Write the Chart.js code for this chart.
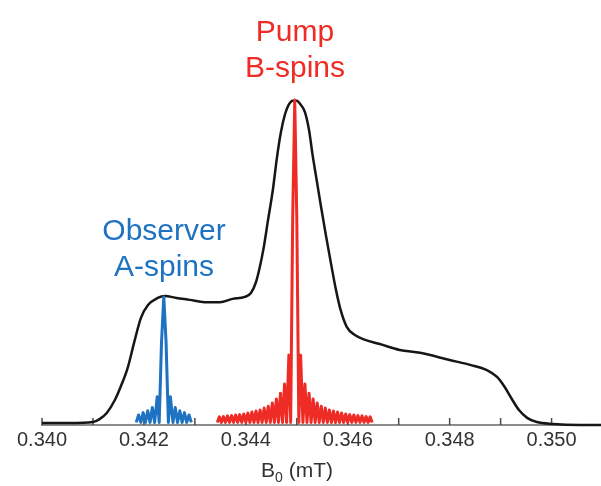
<!DOCTYPE html>
<html>
<head>
<meta charset="utf-8">
<script src="https://cdn.jsdelivr.net/npm/chart.js@4"></script>
<style>
  body { margin: 0; background: #fff; }
  #wrap { position: relative; width: 601px; height: 486px; font-family: "Liberation Sans", Arial, sans-serif; }
  .lbl { position: absolute; transform: translateX(-50%); white-space: nowrap; text-align: center; font-size: 30px; line-height: 36px; }
</style>
</head>
<body>
<div id="wrap">
  <canvas id="epr" width="601" height="486"></canvas>
  <div class="lbl" style="left:295px; top:13px; color:#ee2b24;">Pump<br>B-spins</div>
  <div class="lbl" style="left:164px; top:212px; color:#1d72c2;">Observer<br>A-spins</div>
  <div class="lbl" style="left:297px; top:460px; font-size:21px; line-height:20px; color:#333;">B<span style="font-size:14px; position:relative; top:5px;">0</span> (mT)</div>
</div>
<script>
// field axis ticks (mT)
const xMin = 0.340;
const xMax = 0.35097;

// black: full EPR spectrum
const specB = [0.34000, 0.34054, 0.34100, 0.34113, 0.34127, 0.34143, 0.34155, 0.34168, 0.34181, 0.34194,
  0.34208, 0.34227, 0.34241, 0.34264, 0.34290, 0.34319, 0.34349, 0.34374, 0.34398, 0.34410,
  0.34420, 0.34427, 0.34435, 0.34443, 0.34453, 0.34461, 0.34469, 0.34477, 0.34484, 0.34492,
  0.34500, 0.34508, 0.34516, 0.34524, 0.34531, 0.34539, 0.34547, 0.34557, 0.34567, 0.34577,
  0.34586, 0.34598, 0.34614, 0.34634, 0.34663, 0.34702, 0.34742, 0.34800, 0.34840, 0.34873,
  0.34893, 0.34908, 0.34922, 0.34936, 0.34952, 0.34971, 0.35003, 0.35056, 0.35097];
const specI = [0.006, 0.006, 0.009, 0.018, 0.037, 0.077, 0.120, 0.175, 0.255, 0.329,
  0.369, 0.391, 0.397, 0.391, 0.385, 0.378, 0.378, 0.388, 0.394, 0.406,
  0.440, 0.483, 0.545, 0.625, 0.723, 0.822, 0.902, 0.957, 0.985, 0.998,
  0.998, 0.985, 0.963, 0.908, 0.831, 0.754, 0.677, 0.585, 0.498, 0.415,
  0.354, 0.302, 0.277, 0.262, 0.249, 0.231, 0.222, 0.200, 0.185, 0.169,
  0.148, 0.117, 0.080, 0.046, 0.022, 0.009, 0.003, 0.000, 0.000];

// red: pump excitation profile (B-spins)
const pumpB = [0.34344, 0.34348, 0.34352, 0.34356, 0.34360, 0.34364, 0.34368, 0.34372, 0.34376, 0.34380,
  0.34384, 0.34388, 0.34392, 0.34396, 0.34400, 0.34404, 0.34408, 0.34412, 0.34416, 0.34420,
  0.34424, 0.34428, 0.34432, 0.34436, 0.34440, 0.34444, 0.34448, 0.34452, 0.34456, 0.34460,
  0.34464, 0.34468, 0.34472, 0.34476, 0.34480, 0.344845, 0.34488, 0.34492, 0.34496,
  0.34500, 0.34504, 0.345075, 0.34512, 0.34516, 0.34520, 0.34524, 0.34528, 0.34532, 0.34536,
  0.34540, 0.34544, 0.34548, 0.34552, 0.34556, 0.34560, 0.34564, 0.34568, 0.34572, 0.34576,
  0.34580, 0.34584, 0.34588, 0.34592, 0.34596, 0.34600, 0.34604, 0.34608, 0.34612, 0.34616,
  0.34620, 0.34624, 0.34628, 0.34632, 0.34636, 0.34640, 0.34644, 0.34648];
const pumpI = [0.008, 0.025, 0.008, 0.026, 0.008, 0.028, 0.008, 0.029, 0.008, 0.031,
  0.008, 0.032, 0.008, 0.034, 0.008, 0.037, 0.008, 0.040, 0.008, 0.043,
  0.008, 0.046, 0.008, 0.052, 0.008, 0.058, 0.008, 0.068, 0.008, 0.080,
  0.008, 0.098, 0.008, 0.126, 0.008, 0.215, 0.008, 0.640, 1.000,
  0.640, 0.008, 0.215, 0.008, 0.126, 0.008, 0.098, 0.008, 0.080, 0.008,
  0.068, 0.008, 0.058, 0.008, 0.052, 0.008, 0.046, 0.008, 0.043, 0.008,
  0.040, 0.008, 0.037, 0.008, 0.034, 0.008, 0.032, 0.008, 0.031, 0.008,
  0.029, 0.008, 0.028, 0.008, 0.026, 0.008, 0.025, 0.008];

// blue: observer excitation profile (A-spins)
const obsB = [0.34185, 0.341895, 0.34194, 0.341985, 0.34203, 0.342075, 0.34212, 0.342165, 0.34221, 0.342261,
  0.34230, 0.342345, 0.34239, 0.342435, 0.34248, 0.342519, 0.34257, 0.342615, 0.34266, 0.342705,
  0.34275, 0.342795, 0.34284, 0.342885, 0.34293];
const obsI = [0.008, 0.031, 0.008, 0.038, 0.008, 0.044, 0.008, 0.054, 0.008, 0.087,
  0.008, 0.254, 0.394, 0.254, 0.008, 0.087, 0.008, 0.054, 0.008, 0.044,
  0.008, 0.038, 0.008, 0.031, 0.008];

const pts = (xs, ys) => xs.map((x, i) => ({ x: x, y: ys[i] }));

// small upward tick marks on the field axis
const tickMarks = {
  id: 'tickMarks',
  beforeDatasetsDraw(chart) {
    const { ctx, scales: { x } } = chart;
    ctx.save();
    ctx.strokeStyle = '#4a4a4a';
    ctx.lineWidth = 1.5;
    x.ticks.forEach(t => {
      const px = x.getPixelForValue(t.value);
      ctx.beginPath();
      ctx.moveTo(px, x.top);
      ctx.lineTo(px, x.top - 7);
      ctx.stroke();
    });
    ctx.restore();
  }
};

new Chart(document.getElementById('epr'), {
  type: 'line',
  data: {
    datasets: [
      { data: pts(obsB, obsI), borderColor: '#1d72c2', borderWidth: 3, pointRadius: 0, borderJoinStyle: 'round', tension: 0, order: 1, clip: false },
      { data: pts(pumpB, pumpI), borderColor: '#ee2b24', borderWidth: 3, pointRadius: 0, borderJoinStyle: 'round', tension: 0, order: 2, clip: false },
      { data: pts(specB, specI), borderColor: '#161616', borderWidth: 2.5, pointRadius: 0, cubicInterpolationMode: 'monotone', order: 3, clip: false }
    ]
  },
  options: {
    responsive: false,
    animation: false,
    layout: { padding: { left: 42, top: 100, right: 0, bottom: 0 } },
    plugins: { legend: { display: false }, tooltip: { enabled: false } },
    scales: {
      x: {
        type: 'linear',
        min: xMin,
        max: xMax,
        grid: { display: false },
        border: { display: true, color: '#8c8c8c', width: 2 },
        ticks: {
          stepSize: 0.001,
          includeBounds: false,
          autoSkip: false,
          maxRotation: 0,
          padding: -5,
          color: '#333',
          font: { family: '"Liberation Sans", Arial, sans-serif', size: 20 },
          callback: v => (Math.round(v * 1000) % 2 === 0 ? v.toFixed(3) : '')
        },
        afterFit: s => { s.height = 61; }
      },
      y: { display: false, min: 0, max: 1 }
    }
  },
  plugins: [tickMarks]
});
</script>
</body>
</html>
